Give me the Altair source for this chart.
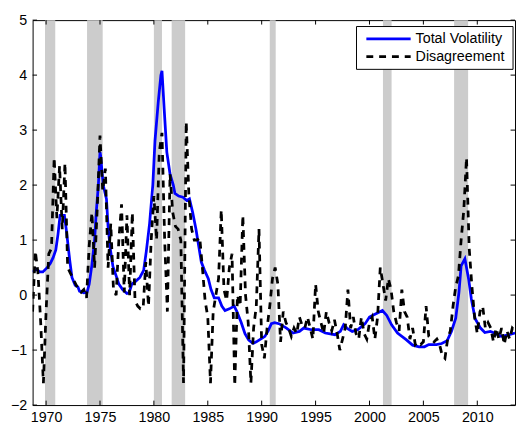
import altair as alt
import pandas as pd

# ---- data ----
vol_year = [1968.75, 1969.1, 1969.45, 1969.7, 1970.1, 1970.4, 1970.65, 1970.9, 1971.1, 1971.3,
            1971.5, 1971.7, 1971.9, 1972.2, 1972.4, 1972.7, 1972.95, 1973.1, 1973.5, 1973.8,
            1974.0, 1974.25, 1974.5, 1974.65, 1974.85, 1975.0, 1975.05, 1975.3, 1975.6, 1975.75,
            1975.95, 1976.2, 1976.5, 1976.75, 1977.1, 1977.5, 1977.7, 1977.95, 1978.3, 1978.7,
            1979.05, 1979.3, 1979.6, 1979.9, 1980.1, 1980.4, 1980.65, 1980.75, 1980.95, 1981.2,
            1981.5, 1981.8, 1981.95, 1982.3, 1982.7, 1983.05, 1983.3, 1983.6, 1983.9, 1984.15,
            1984.4, 1984.7, 1985.05, 1985.3, 1985.6, 1986.0, 1986.3, 1986.6, 1987.0, 1987.45,
            1987.7, 1988.1, 1988.45, 1988.8, 1989.2, 1989.5, 1989.9, 1990.3, 1990.6, 1990.9,
            1991.2, 1991.6, 1992.3, 1992.9, 1993.5, 1993.9, 1994.6, 1995.3, 1995.9, 1996.8,
            1997.3, 1997.6, 1997.9, 1998.4, 1998.9, 1999.6, 2000.0, 2000.5, 2001.2, 2001.6,
            2002.05, 2002.6, 2003.4, 2004.0, 2004.6, 2005.1, 2005.5, 2006.2, 2006.7, 2007.2,
            2007.6, 2008.0, 2008.3, 2008.5, 2008.85, 2009.2, 2009.45, 2009.8, 2010.3, 2010.7,
            2011.2, 2011.6, 2012.2, 2012.8, 2013.5]
vol_value = [0.42, 0.47, 0.42, 0.42, 0.5, 0.58, 0.68, 0.82, 1.1, 1.45,
             1.45, 1.45, 1.15, 0.62, 0.32, 0.18, 0.15, 0.07, 0.04, 0.05,
             0.2, 0.55, 1.0, 1.5, 2.0, 2.6, 2.55, 2.0, 1.75, 1.25,
             0.85, 0.52, 0.35, 0.2, 0.1, 0.03, 0.04, 0.2, 0.25, 0.32,
             0.45, 0.8, 1.3, 2.0, 2.8, 3.5, 4.0, 4.08, 3.4, 2.6,
             2.2, 2.0, 1.85, 1.8, 1.78, 1.72, 1.75, 1.5, 1.2, 0.9,
             0.6, 0.45, 0.3, 0.1, -0.05, -0.05, -0.2, -0.28, -0.25, -0.2,
             -0.3, -0.5, -0.7, -0.82, -0.88, -0.85, -0.8, -0.75, -0.65, -0.52,
             -0.5, -0.52, -0.6, -0.69, -0.66, -0.6, -0.63, -0.63, -0.69, -0.72,
             -0.66, -0.54, -0.6, -0.66, -0.63, -0.52, -0.4, -0.35, -0.28, -0.37,
             -0.54, -0.69, -0.81, -0.91, -0.94, -0.94, -0.9, -0.9, -0.88, -0.83,
             -0.66, -0.42, 0.05, 0.53, 0.66, 0.29, -0.07, -0.43, -0.6, -0.68,
             -0.66, -0.69, -0.75, -0.73, -0.69]

# Disagreement: quarterly, first quarter 1968Q4
dis_first = 1968.75
dis_value = [
    -0.3,
    0.8, 0.4, -0.5, -1.6,      # 1969
    -0.3, 0.75, 0.85, 2.5,     # 1970
    1.4, 2.35, 1.2, 2.4,       # 1971
    0.5, 0.4, 0.3, 0.2,        # 1972
    0.1, 0.05, 0.1, -0.05,     # 1973
    0.9, 1.5, 0.5, 1.6,        # 1974
    2.9, 1.9, 2.3, 0.5,        # 1975
    1.3, 0.1, 0.0, 1.0,        # 1976
    1.65, 0.05, 1.45, 0.0,     # 1977
    1.5, -0.1, -0.2, -0.25,    # 1978
    -0.25, 0.6, -0.2, 1.0,     # 1979
    1.8, 1.0, 2.6, 2.95,       # 1980
    1.0, -0.3, 2.2, 1.5,       # 1981
    1.25, 1.2, 1.0, -1.6,      # 1982
    3.15, 1.8, 1.2, 1.0,       # 1983
    1.0, 1.05, 0.5, -0.1,      # 1984
    -0.4, -1.6, -0.3, 0.0,     # 1985
    0.3, 1.55, 0.1, -0.1,      # 1986
    0.5, 0.75, -1.65, 0.0,     # 1987
    -0.2, 1.45, 0.0, -0.5,     # 1988
    -1.6, -0.6, -0.2, 1.2,     # 1989
    -0.9, -1.15, -0.6, -0.2,   # 1990
    0.3, 0.5, 0.2, -0.85,      # 1991
    -0.3, -0.5, -0.6, -0.75,   # 1992
    -0.6, -0.7, -0.4, -0.55,   # 1993
    -0.6, -0.4, -0.6, -0.8,    # 1994
    0.2, -0.3, -0.5, -0.7,     # 1995
    -0.3, -0.5, -0.65, -0.45,  # 1996
    -0.7, -1.0, -0.8, -0.6,    # 1997
    0.1, -0.6, -0.4, -0.7,     # 1998
    -0.8, -0.4, -0.7, -0.8,    # 1999
    -0.5, -0.4, -0.8, -0.4,    # 2000
    0.5, 0.2, -0.1, 0.3,       # 2001
    0.1, -0.3, -0.5, -0.65,    # 2002
    0.1, -0.3, -0.4, -0.8,     # 2003
    -0.6, -0.9, -0.85, -0.9,   # 2004
    -0.85, -0.2, -0.75, -0.8,  # 2005
    -0.85, -0.8, -0.9, -1.1,   # 2006
    -1.15, -0.8, -0.65, -0.2,  # 2007
    0.15, 0.35, 1.0, 1.55,     # 2008
    2.5, 0.85, 0.16, -0.4,     # 2009
    -0.7, -0.3, -0.2, -0.6,    # 2010
    -0.5, -0.6, -0.85, -0.6,   # 2011
    -0.8, -0.6, -0.9, -0.65,   # 2012
    -0.8, -0.6, -0.65,         # 2013
]
dis_year = [dis_first + 0.25 * i for i in range(len(dis_value))]

rec_start = [1969.9, 1973.8, 1980.0, 1981.65, 1990.75, 2001.25, 2007.85]
rec_end = [1970.85, 1975.25, 1980.75, 1982.9, 1991.3, 2002.05, 2009.15]

x_ticks = [1970, 1975, 1980, 1985, 1990, 1995, 2000, 2005, 2010]
y_ticks = [-2, -1, 0, 1, 2, 3, 4, 5]
legend_labels = ["Total Volatility", "Disagreement"]

# ---- chart ----
W, H = 490, 391
FONT = "Liberation Sans"
FS = 14.5
BLUE = "#0000ff"
LW = 2.8
DASH = [7, 6]

vol_df = pd.DataFrame({"year": vol_year, "value": vol_value})
dis_df = pd.DataFrame({"year": dis_year, "value": dis_value})
rec_df = pd.DataFrame({"start": rec_start, "end": rec_end})
xt_df = pd.DataFrame({"t": x_ticks})
yt_df = pd.DataFrame({"t": y_ticks})

xs = alt.Scale(domain=[1968.75, 2013.5], nice=False, zero=False)
ys = alt.Scale(domain=[-2, 5], nice=False, zero=False)

xaxis = alt.Axis(values=x_ticks, format="d", tickSize=0, domain=False, grid=False,
                 labelPadding=6, labelFontSize=FS, labelFont=FONT, labelColor="black",
                 title=None, labelFlush=False)
yaxis = alt.Axis(values=y_ticks, format="d", tickSize=0, domain=False, grid=False,
                 labelPadding=6, labelFontSize=FS, labelFont=FONT, labelColor="black",
                 title=None, labelFlush=False)

X = lambda f: alt.X(f, scale=xs, axis=xaxis)
Y = lambda f: alt.Y(f, scale=ys, axis=yaxis)

bands = alt.Chart(rec_df).mark_rect(color="#cccccc", opacity=1).encode(
    x=X("start:Q"), x2="end:Q", y=alt.value(0), y2=alt.value(H))

vol_line = alt.Chart(vol_df).mark_line(color=BLUE, strokeWidth=LW, clip=True).encode(
    x=X("year:Q"), y=Y("value:Q"))

dis_line = alt.Chart(dis_df).mark_line(color="black", strokeWidth=LW, strokeDash=DASH,
                                       clip=True).encode(
    x=X("year:Q"), y=Y("value:Q"))

TL = 4.5
xt_bot = alt.Chart(xt_df).mark_rule(color="black", strokeWidth=1).encode(
    x=X("t:Q"), y=alt.value(H), y2=alt.value(H - TL))
xt_top = alt.Chart(xt_df).mark_rule(color="black", strokeWidth=1).encode(
    x=X("t:Q"), y=alt.value(0), y2=alt.value(TL))
yt_left = alt.Chart(yt_df).mark_rule(color="black", strokeWidth=1).encode(
    y=Y("t:Q"), x=alt.value(0), x2=alt.value(TL))
yt_right = alt.Chart(yt_df).mark_rule(color="black", strokeWidth=1).encode(
    y=Y("t:Q"), x=alt.value(W), x2=alt.value(W - TL))

one = pd.DataFrame({"k": [0]})
leg_box = alt.Chart(one).mark_rect(fill="white", stroke="black", strokeWidth=1).encode(
    x=alt.value(329), x2=alt.value(488), y=alt.value(6.5), y2=alt.value(50))
leg_l1 = alt.Chart(one).mark_rule(color=BLUE, strokeWidth=LW).encode(
    x=alt.value(339), x2=alt.value(384), y=alt.value(19))
leg_l2 = alt.Chart(one).mark_rule(color="black", strokeWidth=LW, strokeDash=DASH).encode(
    x=alt.value(339), x2=alt.value(384), y=alt.value(37))
leg_t1 = alt.Chart(pd.DataFrame({"label": [legend_labels[0]]})).mark_text(
    align="left", baseline="middle", font=FONT, fontSize=FS, color="black").encode(
    text="label:N", x=alt.value(389), y=alt.value(19.5))
leg_t2 = alt.Chart(pd.DataFrame({"label": [legend_labels[1]]})).mark_text(
    align="left", baseline="middle", font=FONT, fontSize=FS, color="black").encode(
    text="label:N", x=alt.value(389), y=alt.value(37.5))

chart = alt.layer(
    bands, vol_line, dis_line, xt_bot, xt_top, yt_left, yt_right,
    leg_box, leg_l1, leg_l2, leg_t1, leg_t2
).properties(
    width=W, height=H,
    autosize=alt.AutoSizeParams(type="none"),
    padding={"left": 25, "top": 9, "right": 1, "bottom": 22},
    background="white",
).configure_view(stroke="black", strokeWidth=1)

chart.save("out.html", embed_options={"renderer": "svg", "actions": False})
